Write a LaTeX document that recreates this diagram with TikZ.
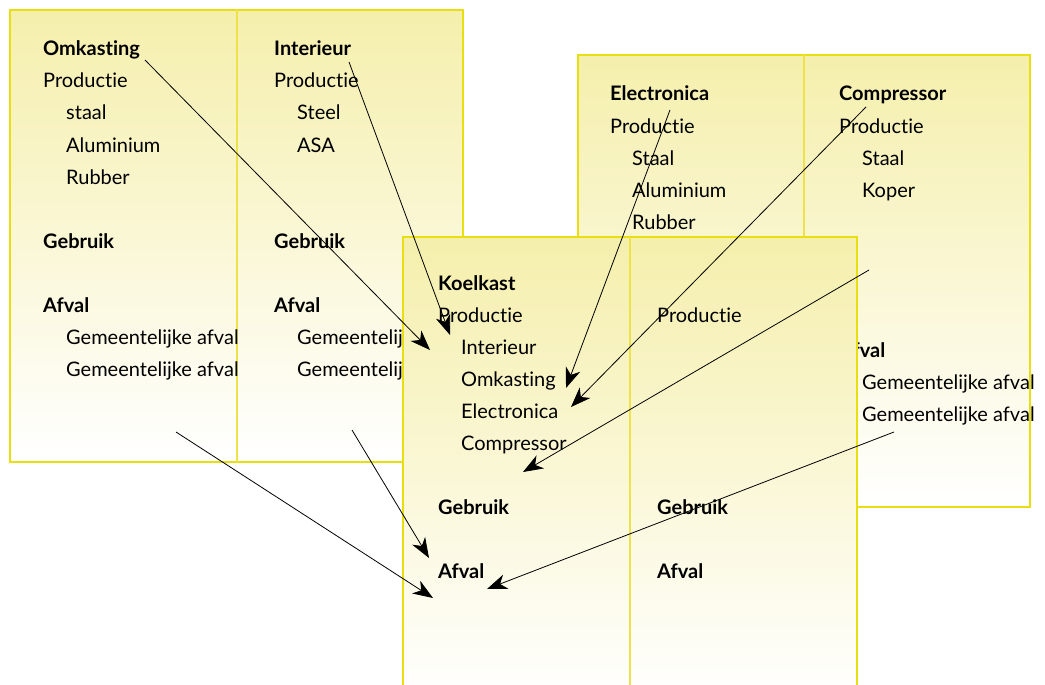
\documentclass[tikz,border=0pt]{standalone}
\usepackage{fontspec}
\setmainfont{Lato}[Ligatures={NoCommon}]
\usetikzlibrary{arrows.meta}
\definecolor{panelyellow}{HTML}{F5EFAC}
\definecolor{panelline}{HTML}{E9DE10}
\definecolor{splitline}{HTML}{EDE24A}
\tikzstyle{every node}=[inner sep=0pt, anchor=base west,
                        font=\fontsize{20}{24}\selectfont]
\tikzstyle{head}=[font=\fontsize{20}{24}\selectfont\bfseries]
\tikzstyle{panel}=[draw=panelline, line width=1.2pt,
                   top color=panelyellow, bottom color=white]
\tikzstyle{split}=[draw=splitline, line width=1.2pt]
\tikzstyle{flow}=[-{Stealth[length=20pt,width=15pt,inset=6pt]}, line width=0.8pt]

\begin{document}
\begin{tikzpicture}[x=1pt,y=-1pt]
      \useasboundingbox (0,0) rectangle (1045,685);
      \clip (0,0) rectangle (1045,685);
      % omkasting / interieur
      \shade[panel] (10,10) rectangle (463,462);
      \draw[split] (237,10) -- (237,462);
      \node[head] (omk) at (43,56) {Omkasting};
      \node (omkProd) at (43,88) {Productie};
      \node (omkStaal) at (66,120) {staal};
      \node (omkAlu) at (66,152) {Aluminium};
      \node (omkRubber) at (66,184) {Rubber};
      \node[head] (omkGebruik) at (43,248) {Gebruik};
      \node[head] (omkAfval) at (43,312) {Afval};
      \node (omkGemA) at (66,344) {Gemeentelijke afval};
      \node (omkGemB) at (66,376) {Gemeentelijke afval};
      \node[head] (int) at (274,56) {Interieur};
      \node (intProd) at (274,88) {Productie};
      \node (intSteel) at (297,120) {Steel};
      \node (intAsa) at (297,152) {ASA};
      \node[head] (intGebruik) at (274,248) {Gebruik};
      \node[head] (intAfval) at (274,312) {Afval};
      \node (intGemA) at (297,344) {Gemeentelijke afval};
      \node (intGemB) at (297,376) {Gemeentelijke afval};
      % electronica / compressor
      \shade[panel] (578,55) rectangle (1030,507);
      \draw[split] (804,55) -- (804,507);
      \node[head] (elec) at (610,101) {Electronica};
      \node (elecProd) at (610,133) {Productie};
      \node (elecStaal) at (632,165) {Staal};
      \node (elecAlu) at (632,197) {Aluminium};
      \node (elecRubber) at (632,229) {Rubber};
      \node[head] (comp) at (839,101) {Compressor};
      \node (compProd) at (839,133) {Productie};
      \node (compStaal) at (862,165) {Staal};
      \node (compKoper) at (862,197) {Koper};
      \node[head] (compAfval) at (839,357) {Afval};
      \node (compGemA) at (862,389) {Gemeentelijke afval};
      \node (compGemB) at (862,421) {Gemeentelijke afval};
      % koelkast
      \shade[panel] (403,237) rectangle (857,700);
      \draw[split] (630,237) -- (630,700);
      \node[head] (koel) at (438,290) {Koelkast};
      \node (koelProd) at (438,322) {Productie};
      \node (koelInt) at (461,354) {Interieur};
      \node (koelOmk) at (461,386) {Omkasting};
      \node (koelElec) at (461,418) {Electronica};
      \node (koelComp) at (461,450) {Compressor};
      \node[head] (koelGebruik) at (438,514) {Gebruik};
      \node[head] (koelAfval) at (438,578) {Afval};
      \node (koelProdB) at (657,322) {Productie};
      \node[head] (koelGebruikB) at (657,514) {Gebruik};
      \node[head] (koelAfvalB) at (657,578) {Afval};
      % arrow ends
      \coordinate (omkOut) at (145,60);
      \coordinate (intOut) at (349,62);
      \coordinate (elecOut) at (670,110);
      \coordinate (compOut) at (866,107);
      \coordinate (compUse) at (869,270);
      \coordinate (compWaste) at (894,432);
      \coordinate (omkWaste) at (176,432);
      \coordinate (intWaste) at (352,430);
      \coordinate (toOmk) at (430,350);
      \coordinate (toInt) at (450,335);
      \coordinate (toElec) at (566,388);
      \coordinate (toComp) at (571,407);
      \coordinate (toUse) at (523,472);
      \coordinate (toWasteA) at (487,589);
      \coordinate (toWasteB) at (433,598);
      \coordinate (toWasteC) at (429,558);
      \draw[flow] (omkOut) -- (toOmk);
      \draw[flow] (intOut) -- (toInt);
      \draw[flow] (elecOut) -- (toElec);
      \draw[flow] (compOut) -- (toComp);
      \draw[flow] (compUse) -- (toUse);
      \draw[flow] (compWaste) -- (toWasteA);
      \draw[flow] (omkWaste) -- (toWasteB);
      \draw[flow] (intWaste) -- (toWasteC);
\end{tikzpicture}
\end{document}
